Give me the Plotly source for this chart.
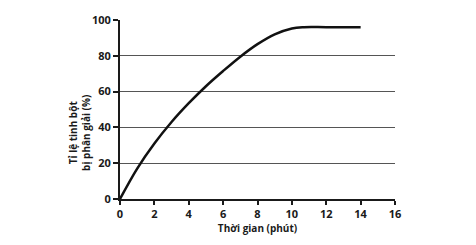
import plotly.graph_objects as go

time_min = [0, 1, 2, 3, 4, 5, 6, 7, 8, 9, 10, 10.7, 12, 14]
pct_hydrolyzed = [0, 17, 31, 43, 53.5, 63, 71.5, 79.5, 86.5, 92, 95.3, 96, 96, 96]
x_ticks = [0, 2, 4, 6, 8, 10, 12, 14, 16]
y_ticks = [0, 20, 40, 60, 80, 100]

font_family = "Open Sans"

fig = go.Figure()
fig.add_trace(go.Scatter(
    x=time_min, y=pct_hydrolyzed, mode="lines",
    line=dict(color="#111111", width=2.5, shape="spline", smoothing=1),
    hoverinfo="skip", showlegend=False,
))

fig.update_layout(
    width=476, height=245,
    margin=dict(l=120, r=81, t=14, b=46),
    paper_bgcolor="white", plot_bgcolor="white",
    font=dict(family=font_family, size=10, color="#1a1a1a"),
    xaxis=dict(
        range=[0, 16], tickvals=x_ticks, ticks="outside", ticklen=4,
        tickwidth=1.5, tickcolor="#1a1a1a",
        showline=True, linecolor="#1a1a1a", linewidth=2,
        showgrid=False, zeroline=False,
        tickfont=dict(size=11, weight="bold"),
        title=dict(text="Thời gian (phút)", font=dict(size=10, weight="bold"), standoff=4),
    ),
    yaxis=dict(
        range=[0, 100], tickvals=y_ticks, ticks="outside", ticklen=5,
        tickwidth=1.5, tickcolor="#1a1a1a",
        showline=True, linecolor="#1a1a1a", linewidth=2,
        showgrid=True, gridcolor="#555555", gridwidth=1,
        zeroline=False,
        tickfont=dict(size=11, weight="bold"),
    ),
    annotations=[dict(
        text="Tỉ lệ tinh bột<br>bị phân giải (%)",
        xref="paper", yref="paper", x=-0.145, y=0.37,
        xanchor="center", yanchor="middle", textangle=-90, showarrow=False,
        font=dict(size=10, weight="bold", color="#1a1a1a"),
    )],
)

fig.write_html(
    "out.html",
    config={"displayModeBar": False},
    post_script="document.body.style.margin='0';document.body.style.overflow='hidden';",
)
